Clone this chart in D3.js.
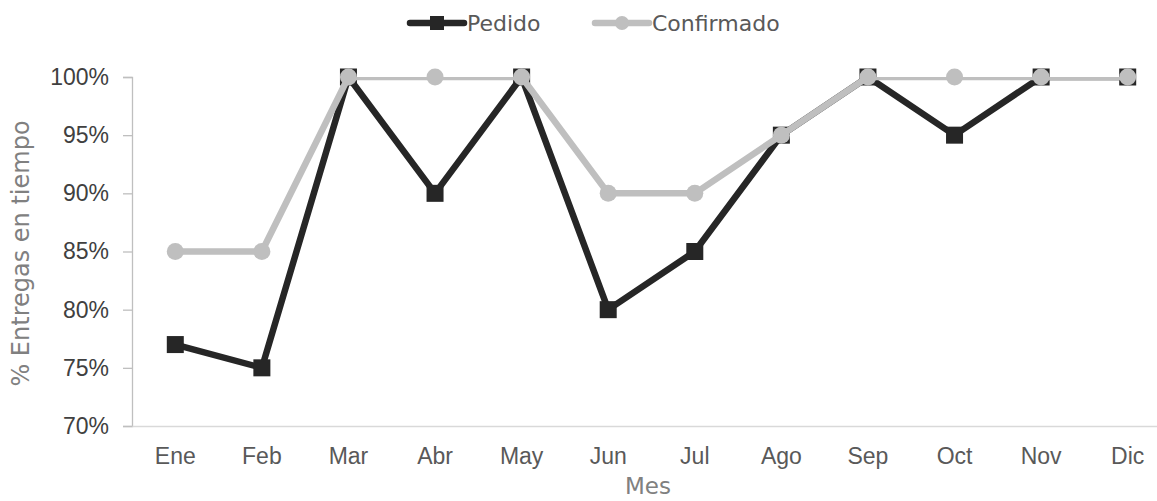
<!DOCTYPE html>
<html>
<head>
<meta charset="utf-8">
<script src="https://cdn.jsdelivr.net/npm/d3@7"></script>
<style>
  html, body { margin: 0; padding: 0; background: #fff; }
  svg { display: block; font-family: "DejaVu Sans", "Lato", sans-serif; }
</style>
</head>
<body>
<svg id="chart" width="1157" height="501"></svg>
<script>
// Monthly on-time delivery rates
const months = ["Ene", "Feb", "Mar", "Abr", "May", "Jun", "Jul", "Ago", "Sep", "Oct", "Nov", "Dic"];
const pedido = [77, 75, 100, 90, 100, 80, 85, 95, 100, 95, 100, 100];
const confirmado = [85, 85, 100, 100, 100, 90, 90, 95, 100, 100, 100, 100];
const yTicks = [70, 75, 80, 85, 90, 95, 100];
const seriesNames = ["Pedido", "Confirmado"];

const svg = d3.select("#chart");
const plot = { left: 132, right: 1171, top: 77, bottom: 426 };

const x = d3.scaleBand().domain(months).range([plot.left, plot.right]);
const y = d3.scaleLinear().domain([70, 100]).range([plot.bottom, plot.top]);

// clip lines to the plot area (markers stay whole)
svg.append("defs").append("clipPath").attr("id", "plotClip")
  .append("rect")
  .attr("x", plot.left).attr("y", plot.top)
  .attr("width", plot.right - plot.left).attr("height", plot.bottom - plot.top);

// y axis
const yAxis = svg.append("g")
  .attr("transform", `translate(${plot.left},0)`)
  .call(d3.axisLeft(y).tickValues(yTicks).tickSize(9).tickPadding(14).tickFormat(d => d + "%"));
yAxis.select(".domain").attr("stroke", "#bfbfbf").attr("stroke-width", 1.3);
yAxis.selectAll(".tick line").attr("stroke", "#bfbfbf").attr("stroke-width", 1.3);
yAxis.selectAll(".tick text").attr("fill", "#404040").attr("font-size", 23);

// x axis
const xAxis = svg.append("g")
  .attr("transform", `translate(0,${plot.bottom})`)
  .call(d3.axisBottom(x).tickSize(0).tickPadding(22));
xAxis.select(".domain").attr("stroke", "#d9d9d9").attr("stroke-width", 1.3);
xAxis.selectAll(".tick text").attr("fill", "#595959").attr("font-size", 23);

// axis titles
svg.append("text")
  .attr("transform", `translate(29,${(plot.top + plot.bottom) / 2 + 2}) rotate(-90)`)
  .attr("text-anchor", "middle").attr("fill", "#808080").attr("font-size", 24)
  .text("% Entregas en tiempo");
svg.append("text")
  .attr("x", 648).attr("y", 494)
  .attr("text-anchor", "middle").attr("fill", "#808080").attr("font-size", 23)
  .text("Mes");

const cx = d => x(d) + x.bandwidth() / 2;
const line = d3.line().x(d => cx(d.m)).y(d => y(d.v));

const pedidoData = months.map((m, i) => ({ m, v: pedido[i] }));
const confData = months.map((m, i) => ({ m, v: confirmado[i] }));

const black = "#262626", grey = "#bfbfbf";
const sq = 17, rad = 8.5;

// Pedido series
svg.append("path").datum(pedidoData)
  .attr("clip-path", "url(#plotClip)")
  .attr("d", line).attr("fill", "none").attr("stroke", black)
  .attr("stroke-width", 6.5).attr("stroke-linejoin", "round");
svg.selectAll("rect.pedido").data(pedidoData).join("rect")
  .attr("class", "pedido")
  .attr("x", d => cx(d.m) - sq / 2).attr("y", d => y(d.v) - sq / 2)
  .attr("width", sq).attr("height", sq).attr("fill", black);

// Confirmado series
svg.append("path").datum(confData)
  .attr("clip-path", "url(#plotClip)")
  .attr("d", line).attr("fill", "none").attr("stroke", grey)
  .attr("stroke-width", 6.5).attr("stroke-linejoin", "round");
svg.selectAll("circle.conf").data(confData).join("circle")
  .attr("class", "conf")
  .attr("cx", d => cx(d.m)).attr("cy", d => y(d.v))
  .attr("r", rad).attr("fill", grey);

// legend
const legend = svg.append("g");
const legendItems = [
  { name: seriesNames[0], color: black, x0: 410, shape: "square" },
  { name: seriesNames[1], color: grey, x0: 595, shape: "circle" }
];
legendItems.forEach(it => {
  const g = legend.append("g").attr("transform", `translate(${it.x0},23)`);
  g.append("line").attr("x1", 0).attr("x2", 54).attr("y1", 0).attr("y2", 0)
    .attr("stroke", it.color).attr("stroke-width", 6.5).attr("stroke-linecap", "round");
  if (it.shape === "square") {
    g.append("rect").attr("x", 27 - 7).attr("y", -7).attr("width", 14).attr("height", 14).attr("fill", it.color);
  } else {
    g.append("circle").attr("cx", 27).attr("cy", 0).attr("r", 7).attr("fill", it.color);
  }
  g.append("text").attr("x", 57).attr("y", 8).attr("fill", "#595959").attr("font-size", 22).text(it.name);
});
</script>
</body>
</html>
